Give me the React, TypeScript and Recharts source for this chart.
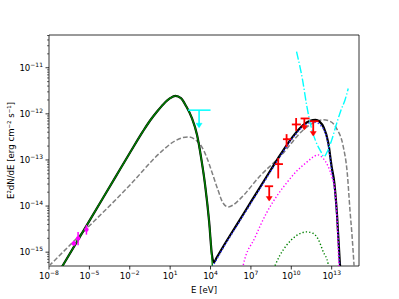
import React from "react";
import {
  ComposedChart,
  Line,
  Scatter,
  ErrorBar,
  XAxis,
  YAxis,
  ReferenceArea,
} from "recharts";

// all values are log10(E / eV) and log10(E^2 dN/dE / erg cm^-2 s^-1)
const X_DOMAIN = [-8, 15.03];
const Y_DOMAIN = [-15.3, -10.29];

const xTicks = [-8, -5, -2, 1, 4, 7, 10, 13];

// synchrotron (green)
const syncE = [-7.5, -7, -5, -3, -2, -1, -0.5, 0, 0.5, 1, 1.4, 1.8, 2.2, 2.6, 3.0, 3.3, 3.6, 3.9, 4.1, 4.2];
const syncF = [-15.54, -15.3, -14.32, -13.34, -12.85, -12.37, -12.15, -11.96, -11.79, -11.66, -11.61, -11.66, -11.84, -12.08, -12.46, -12.95, -13.55, -14.35, -15.13, -15.6];

// total model (black)
const totalE = [-7.5, -7, -5, -3, -2, -1, -0.5, 0, 0.5, 1, 1.4, 1.8, 2.2, 2.6, 3.0, 3.3, 3.6, 3.9, 4.1, 4.25, 4.45, 5, 6, 7, 8, 9, 9.4, 10.1, 10.9, 11.4, 11.8, 12.1, 12.4, 12.75, 13.0, 13.2, 13.4, 13.6, 13.7];
const totalF = [-15.54, -15.3, -14.32, -13.34, -12.85, -12.37, -12.15, -11.96, -11.79, -11.66, -11.61, -11.66, -11.84, -12.08, -12.46, -12.95, -13.55, -14.35, -15.05, -15.22, -15.12, -14.85, -14.38, -13.91, -13.44, -12.97, -12.79, -12.5, -12.24, -12.15, -12.13, -12.17, -12.29, -12.63, -13.15, -13.5, -14.2, -15.2, -15.6];

// inverse Compton (blue dotted)
const icE = [4.0, 4.45, 5, 6, 7, 8, 9, 9.4, 10.1, 10.9, 11.3, 11.6, 11.9, 12.2, 12.45, 12.75, 13.0, 13.2, 13.4, 13.6, 13.7];
const icF = [-15.38, -15.16, -14.88, -14.41, -13.94, -13.47, -13.0, -12.82, -12.53, -12.27, -12.2, -12.17, -12.19, -12.26, -12.36, -12.68, -13.22, -13.6, -14.3, -15.3, -15.7];

// alternative model (gray dashed)
const altE = [-8, -5.87, -2.0, 0.23, 1.35, 2.31, 2.91, 3.36, 3.7, 4.1, 4.55, 4.94, 5.31, 5.66, 6.18, 7.67, 9.28, 10.89, 11.61, 12.37, 12.87, 13.37, 13.86, 14.16, 14.36, 14.51, 14.66, 14.73];
const altF = [-15.3, -14.68, -13.55, -12.85, -12.59, -12.5, -12.57, -12.72, -12.93, -13.26, -13.65, -13.94, -14.02, -13.98, -13.85, -13.35, -12.89, -12.35, -12.2, -12.13, -12.16, -12.32, -12.71, -13.29, -14.09, -14.63, -15.28, -15.61];

// magenta dotted
const ppE = [6.3, 6.42, 7.29, 8.16, 8.86, 9.65, 10.34, 11.14, 11.61, 11.98, 12.35, 12.72, 13.02, 13.24, 13.39, 13.54, 13.62];
const ppF = [-15.5, -15.3, -14.69, -14.15, -13.81, -13.5, -13.26, -13.05, -12.94, -12.89, -12.96, -13.13, -13.37, -13.65, -14.2, -15.3, -15.6];

// dark green dotted
const secE = [8.5, 9.15, 9.65, 10.34, 11.14, 11.61, 12.0, 12.37, 12.74, 12.85];
const secF = [-15.5, -15.07, -14.85, -14.65, -14.56, -14.59, -14.72, -14.99, -15.26, -15.55];

// cyan dash-dot
const sensE = [10.39, 10.84, 11.14, 11.44, 11.81, 12.18, 12.43, 12.72, 13.0, 13.37, 13.69, 13.99, 14.23];
const sensF = [-10.65, -11.27, -11.81, -12.24, -12.59, -12.81, -12.93, -12.79, -12.57, -12.21, -11.92, -11.7, -11.45];

// red data points
const redE = [9.03, 9.65, 10.36];
const redF = [-13.09, -12.55, -12.23];
const redFlo = [-13.4, -12.72, -12.37];
const redFhi = [-12.96, -12.44, -12.09];
const redElo = [8.79, 9.38, 10.04];
const redEhi = [9.38, 9.98, 10.71];

// red upper limits
const redUlE = [8.36, 10.97, 11.63];
const redUlF = [-13.57, -12.1, -12.16];
const redUlTip = [-13.87, -12.33, -12.46];
const redUlElo = [8.03, 10.69, 11.36];
const redUlEhi = [8.65, 11.36, 12.03];

// cyan upper limit
const cyanUlE = [3.15];
const cyanUlF = [-11.92];
const cyanUlTip = [-12.28];
const cyanUlElo = [2.33];
const cyanUlEhi = [4.0];

// magenta low energy points
const magE = [-6.16, -5.84, -5.22];
const magF = [-14.81, -14.7, -14.51];
const magFlo = [-14.86, -14.85, -14.62];
const magFhi = [-14.76, -14.56, -14.41];
const magElo = [-6.26, -5.94, -5.32];
const magEhi = [-6.06, -5.74, -5.12];

const FONT = "DejaVu Sans";

const curve = (xs: number[], ys: number[]) => xs.map((x, i) => ({ x, y: ys[i] }));

const points = (xs: number[], ys: number[], lo: number[], hi: number[], xlo: number[], xhi: number[]) =>
  xs.map((x, i) => ({
    x,
    y: ys[i],
    ey: [ys[i] - lo[i], hi[i] - ys[i]],
    ex: [x - xlo[i], xhi[i] - x],
  }));

const upperLimits = (xs: number[], ys: number[], tips: number[], xlo: number[], xhi: number[]) =>
  xs.map((x, i) => ({
    x,
    y: ys[i],
    ey: [ys[i] - tips[i], 0],
    ex: [x - xlo[i], xhi[i] - x],
  }));

const tipsOf = (xs: number[], tips: number[]) => xs.map((x, i) => ({ x, y: tips[i] }));

const yTicks: number[] = [];
for (let d = -16; d <= -11; d++) {
  for (let k = 1; k <= 9; k++) {
    const v = d + Math.log10(k);
    if (v >= Y_DOMAIN[0] && v <= Y_DOMAIN[1]) yTicks.push(v);
  }
}

const isMajor = (v: number) => Math.abs(v - Math.round(v)) < 1e-6;
const sup = (v: number) => (v < 0 ? "\u2212" + Math.abs(Math.round(v)) : String(Math.round(v)));

const XTick = ({ x, y, payload }: any) => (
  <g>
    <line x1={x} x2={x} y1={y} y2={y + 3.5} stroke="#000" strokeWidth={0.8} />
    <text x={x} y={y + 13} textAnchor="middle" fontFamily={FONT} fontSize={8.6} fill="#000">
      <tspan>10</tspan>
      <tspan dy={-4} fontSize={6}>{sup(payload.value)}</tspan>
    </text>
  </g>
);

const YTick = ({ x, y, payload }: any) => {
  const major = isMajor(payload.value);
  return (
    <g>
      <line x1={x - (major ? 3.5 : 2)} x2={x} y1={y} y2={y} stroke="#000" strokeWidth={major ? 0.8 : 0.6} />
      {major && (
        <text x={x - 6} y={y + 3} textAnchor="end" fontFamily={FONT} fontSize={8.6} fill="#000">
          <tspan>10</tspan>
          <tspan dy={-4} fontSize={6}>{sup(payload.value)}</tspan>
        </text>
      )}
    </g>
  );
};

const XLabel = ({ viewBox }: any) => (
  <text x={viewBox.x + viewBox.width / 2} y={viewBox.y + 26.5} textAnchor="middle" fontFamily={FONT} fontSize={8.6} fill="#000">
    E [eV]
  </text>
);

const YLabel = ({ viewBox }: any) => {
  const cx = 13.5;
  const cy = viewBox.y + viewBox.height / 2;
  return (
    <text x={cx} y={cy} transform={`rotate(-90 ${cx} ${cy})`} textAnchor="middle" fontFamily={FONT} fontSize={8.6} fill="#000">
      E²dN/dE [erg cm⁻² s⁻¹]
    </text>
  );
};

const NoMark = () => <g />;

const Dot = (color: string, r: number) => (props: any) => <circle cx={props.cx} cy={props.cy} r={r} fill={color} />;

const Caret = (color: string) => (props: any) => {
  const { cx, cy } = props;
  return <path d={`M${cx - 3},${cy - 3.5} L${cx + 3},${cy - 3.5} L${cx},${cy + 1} Z`} fill={color} stroke={color} strokeWidth={0.5} />;
};

export default function App() {
  return (
    <div style={{ position: "absolute", left: 0, top: 0, width: 399, height: 299, background: "#fff" }}>
      <ComposedChart width={399} height={299} margin={{ top: 35, right: 40, bottom: 0, left: 0 }}>
        <XAxis
          type="number"
          dataKey="x"
          domain={X_DOMAIN}
          allowDataOverflow
          ticks={xTicks}
          interval={0}
          tick={<XTick />}
          tickLine={false}
          tickSize={0}
          tickMargin={0}
          axisLine={false}
          height={33}
          label={<XLabel />}
        />
        <YAxis
          type="number"
          dataKey="y"
          domain={Y_DOMAIN}
          allowDataOverflow
          ticks={yTicks}
          interval={0}
          tick={<YTick />}
          tickLine={false}
          tickSize={0}
          tickMargin={0}
          axisLine={false}
          width={49}
          label={<YLabel />}
        />

        <Line data={curve(altE, altF)} dataKey="y" type="monotone" stroke="#808080" strokeWidth={1.5} strokeDasharray="4.8 2.1" dot={false} activeDot={false} isAnimationActive={false} />
        <Line data={curve(totalE, totalF)} dataKey="y" type="monotone" stroke="#000" strokeWidth={2.2} dot={false} activeDot={false} isAnimationActive={false} />
        <Line data={curve(syncE, syncF)} dataKey="y" type="monotone" stroke="#008000" strokeWidth={1.4} dot={false} activeDot={false} isAnimationActive={false} />
        <Line data={curve(icE, icF)} dataKey="y" type="monotone" stroke="#3333ff" strokeWidth={1.4} strokeDasharray="1.3 2.1" dot={false} activeDot={false} isAnimationActive={false} />
        <Line data={curve(ppE, ppF)} dataKey="y" type="monotone" stroke="#ff00ff" strokeWidth={1.4} strokeDasharray="1.3 2.1" dot={false} activeDot={false} isAnimationActive={false} />
        <Line data={curve(secE, secF)} dataKey="y" type="monotone" stroke="#008000" strokeWidth={1.4} strokeDasharray="1.3 2.1" dot={false} activeDot={false} isAnimationActive={false} />
        <Line data={curve(sensE, sensF)} dataKey="y" type="monotone" stroke="#00ffff" strokeWidth={1.4} strokeDasharray="8.3 2.1 1.3 2.1" dot={false} activeDot={false} isAnimationActive={false} />

        <Scatter data={upperLimits(cyanUlE, cyanUlF, cyanUlTip, cyanUlElo, cyanUlEhi)} shape={NoMark} isAnimationActive={false}>
          <ErrorBar dataKey="ey" direction="y" width={0} stroke="#00ffff" strokeWidth={1.5} />
          <ErrorBar dataKey="ex" direction="x" width={0} stroke="#00ffff" strokeWidth={1.5} />
        </Scatter>
        <Scatter data={tipsOf(cyanUlE, cyanUlTip)} shape={Caret("#00ffff")} isAnimationActive={false} />

        <Scatter data={points(magE, magF, magFlo, magFhi, magElo, magEhi)} shape={Dot("#ff00ff", 2.2)} isAnimationActive={false}>
          <ErrorBar dataKey="ey" direction="y" width={0} stroke="#ff00ff" strokeWidth={1.5} />
          <ErrorBar dataKey="ex" direction="x" width={0} stroke="#ff00ff" strokeWidth={1.5} />
        </Scatter>

        <Scatter data={points(redE, redF, redFlo, redFhi, redElo, redEhi)} shape={Dot("#ff0000", 1.2)} isAnimationActive={false}>
          <ErrorBar dataKey="ey" direction="y" width={0} stroke="#ff0000" strokeWidth={1.8} />
          <ErrorBar dataKey="ex" direction="x" width={0} stroke="#ff0000" strokeWidth={1.8} />
        </Scatter>
        <Scatter data={upperLimits(redUlE, redUlF, redUlTip, redUlElo, redUlEhi)} shape={NoMark} isAnimationActive={false}>
          <ErrorBar dataKey="ey" direction="y" width={0} stroke="#ff0000" strokeWidth={1.8} />
          <ErrorBar dataKey="ex" direction="x" width={0} stroke="#ff0000" strokeWidth={1.8} />
        </Scatter>
        <Scatter data={tipsOf(redUlE, redUlTip)} shape={Caret("#ff0000")} isAnimationActive={false} />

        <ReferenceArea x1={X_DOMAIN[0]} x2={X_DOMAIN[1]} y1={Y_DOMAIN[0]} y2={Y_DOMAIN[1]} fill="none" stroke="#000" strokeWidth={0.8} ifOverflow="visible" />
      </ComposedChart>
    </div>
  );
}
